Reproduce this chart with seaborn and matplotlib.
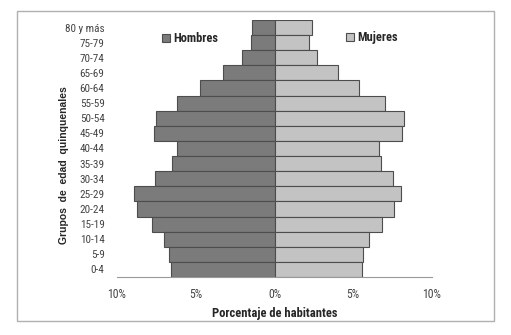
import matplotlib
matplotlib.use('Agg')
import matplotlib.pyplot as plt
import pandas as pd
import seaborn as sns
from matplotlib.patches import Rectangle

# age groups, bottom to top
grupos = ['0-4', '5-9', '10-14', '15-19', '20-24', '25-29', '30-34', '35-39',
          '40-44', '45-49', '50-54', '55-59', '60-64', '65-69', '70-74',
          '75-79', '80 y más']
hombres = [6.6, 6.7, 7.0, 7.8, 8.75, 8.9, 7.6, 6.5, 6.2, 7.65, 7.55, 6.2,
           4.7, 3.3, 2.05, 1.5, 1.45]
mujeres = [5.55, 5.6, 6.0, 6.8, 7.6, 8.0, 7.5, 6.75, 6.65, 8.1, 8.25, 7.0,
           5.35, 4.05, 2.7, 2.2, 2.4]
xticks = [-10, -5, 0, 5, 10]
xtick_labels = ['10%', '5%', '0%', '5%', '10%']

sns.set_style('white')
plt.rcParams['font.family'] = ['Roboto Condensed', 'DejaVu Sans']

df = pd.DataFrame({
    'Grupo': grupos * 2,
    'Valor': [-v for v in hombres] + mujeres,
    'Sexo': ['Hombres'] * len(grupos) + ['Mujeres'] * len(grupos),
})

fig = plt.figure(figsize=(5.11, 3.35), dpi=100)
ax = fig.add_axes([117 / 511, 1 - 277 / 335, (432 - 117) / 511, (277 - 20) / 335])

sns.barplot(data=df, x='Valor', y='Grupo', hue='Sexo', order=grupos[::-1],
            palette={'Hombres': '#7b7b7b', 'Mujeres': '#c3c3c3'},
            dodge=False, width=1.0, orient='h', edgecolor='#4d4d4d',
            linewidth=0.8, saturation=1, ax=ax)

ax.set_xlim(-10, 10)
ax.set_ylim(len(grupos) - 0.5, -0.5)
ax.set_xticks(xticks)
ax.set_xticklabels(xtick_labels, fontsize=8.5, color='#444444')
ax.tick_params(axis='x', direction='in', length=4, color='#999999', pad=8)
ax.tick_params(axis='y', length=0, pad=9, labelsize=8, labelcolor='#444444')
for lab in ax.get_yticklabels():
    lab.set_horizontalalignment('right')

for s in ['top', 'right', 'left']:
    ax.spines[s].set_visible(False)
ax.spines['bottom'].set_color('#999999')

ax.set_xlabel('Porcentaje de habitantes', fontsize=9, fontweight='bold', labelpad=4)
ax.set_ylabel('')
fig.text(64 / 511, 1 - 165 / 335, 'Grupos  de  edad  quinquenales',
         rotation=90, ha='center', va='center', fontsize=7.5, fontweight='bold',
         family=['Liberation Sans', 'DejaVu Sans'])

# split legend
handles, labels = ax.get_legend_handles_labels()
ax.get_legend().remove()
leg_kw = dict(loc='center left', frameon=False, handlelength=0.6, handleheight=0.6,
              handletextpad=0.3, borderpad=0, borderaxespad=0,
              prop={'weight': 'bold', 'size': 9})
leg1 = ax.legend([handles[0]], [labels[0]],
                 bbox_to_anchor=((162 - 117) / 315, (277 - 39) / 257), **leg_kw)
ax.add_artist(leg1)
ax.legend([handles[1]], [labels[1]],
          bbox_to_anchor=((346 - 117) / 315, (277 - 38) / 257), **leg_kw)

# outer chart border
fig.patches.append(Rectangle((17 / 511, 1 - 321 / 335), (494 - 17) / 511, (321 - 11) / 335,
                             transform=fig.transFigure, fill=False,
                             edgecolor='#b0b0b0', linewidth=1))

fig.savefig('out.png', dpi=100)
